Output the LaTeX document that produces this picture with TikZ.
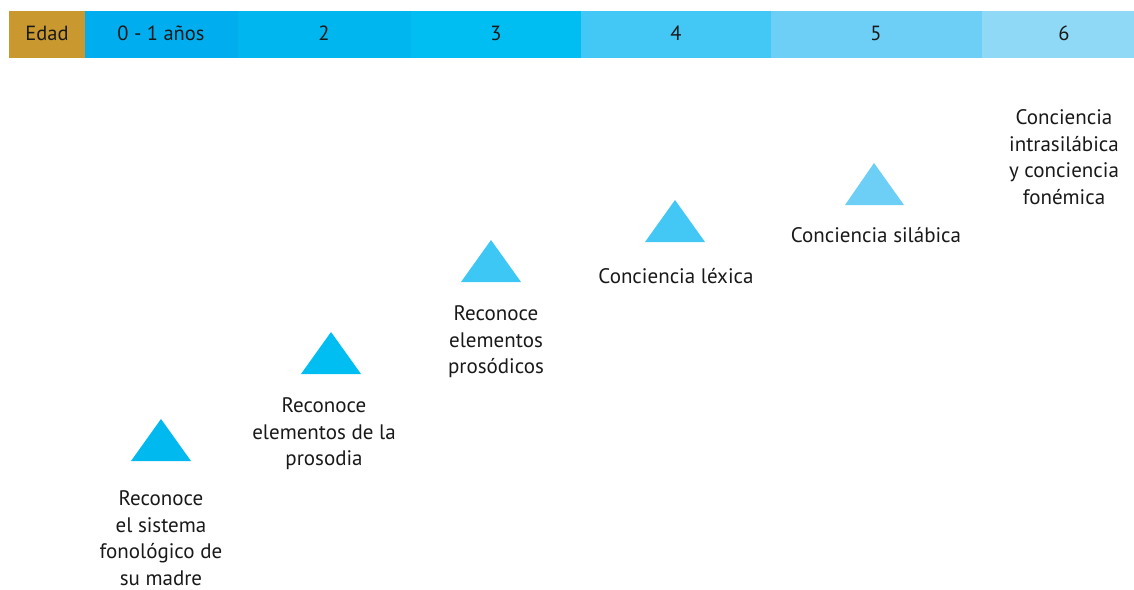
\documentclass[tikz,border=0pt]{standalone}
\usepackage{fontspec}
\setmainfont{PT Sans}
\definecolor{cEdad}{HTML}{C9992F}
\definecolor{cA}{HTML}{00AEEF}
\definecolor{cB}{HTML}{00B6EE}
\definecolor{cC}{HTML}{00BEF2}
\definecolor{cD}{HTML}{43C8F5}
\definecolor{cE}{HTML}{6DCFF6}
\definecolor{cF}{HTML}{8FD9F7}
\definecolor{tA}{HTML}{00B9EF}
\definecolor{tB}{HTML}{00BEF2}
\definecolor{tC}{HTML}{3CC7F4}
\definecolor{tD}{HTML}{43C8F5}
\definecolor{tE}{HTML}{6DCFF6}
\begin{document}
\begin{tikzpicture}[x=1pt,y=-1pt,
  barlbl/.style={font=\fontsize{20.5}{22}\selectfont, text=black!90, anchor=center},
  lbl/.style={font=\fontsize{21}{26.5}\selectfont, align=center, text=black!90, inner sep=0pt}]
\useasboundingbox (0,0) rectangle (1134,589);
% header bar
\fill[cEdad] (9,11) rectangle (85,58);
\fill[cA] (85,11) rectangle (238,58);
\fill[cB] (238,11) rectangle (411,58);
\fill[cC] (411,11) rectangle (581,58);
\fill[cD] (581,11) rectangle (771,58);
\fill[cE] (771,11) rectangle (982,58);
\fill[cF] (982,11) rectangle (1134,58);
\node[barlbl] (hEdad) at (47,33) {Edad};
\node[barlbl] (h0) at (161,33) {0 - 1 años};
\node[barlbl] (h2) at (324,33) {2};
\node[barlbl] (h3) at (496,33) {3};
\node[barlbl] (h4) at (676,33) {4};
\node[barlbl] (h5) at (876,33) {5};
\node[barlbl] (h6) at (1064,33) {6};
% triangles
\fill[tA] (131,461) -- (161,419) -- (191,461) -- cycle;
\fill[tB] (301,374) -- (331,332) -- (361,374) -- cycle;
\fill[tC] (461,282) -- (491,240) -- (521,282) -- cycle;
\fill[tD] (645,242) -- (675,200) -- (705,242) -- cycle;
\fill[tE] (845,205) -- (874,163) -- (904,205) -- cycle;
% labels
\node[lbl] (l1) at (161,538) {Reconoce\\el sistema\\fonológico de\\su madre};
\node[lbl] (l2) at (324,434) {Reconoce\\elementos de la\\prosodia};
\node[lbl] (l3) at (496,342) {Reconoce\\elementos\\prosódicos};
\node[lbl] (l4) at (676,276) {Conciencia léxica};
\node[lbl] (l5) at (876,235) {Conciencia silábica};
\node[lbl] (l6) at (1064,157) {Conciencia\\intrasilábica\\y conciencia\\fonémica};
\end{tikzpicture}
\end{document}
